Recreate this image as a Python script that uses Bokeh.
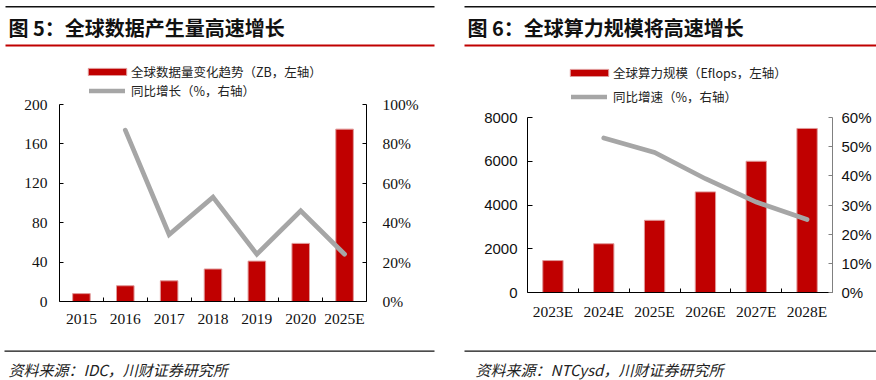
from bokeh.plotting import figure
from bokeh.models import (Range1d, LinearAxis, FixedTicker, PrintfTickFormatter,
                          Legend, LegendItem)
from bokeh.core.properties import value
from bokeh.embed import file_html
from bokeh.resources import INLINE

nan = float("nan")

# ---------------- data ----------------
years1 = ["2015", "2016", "2017", "2018", "2019", "2020", "2025E"]
data_zb = [8, 16, 21, 33, 41, 59, 175]
growth1 = [nan, 87, 34, 53, 24, 46, 24]
left_ticks1 = [0, 40, 80, 120, 160, 200]
right_ticks1 = [0, 20, 40, 60, 80, 100]

years2 = ["2023E", "2024E", "2025E", "2026E", "2027E", "2028E"]
compute_ef = [1460, 2230, 3300, 4600, 6000, 7500]
growth2 = [nan, 53, 48, 39, 31, 25]
left_ticks2 = [0, 2000, 4000, 6000, 8000]
right_ticks2 = [0, 10, 20, 30, 40, 50, 60]

titles = ["图 5：全球数据产生量高速增长", "图 6：全球算力规模将高速增长"]
leg1 = ["全球数据量变化趋势（ZB，左轴）", "同比增长（%，右轴）"]
leg2 = ["全球算力规模（Eflops，左轴）", "同比增速（%，右轴）"]
sources = ["资料来源：IDC，川财证券研究所", "资料来源：NTCysd，川财证券研究所"]

RED = "#C00000"
GRAY = "#A6A6A6"
CJK = "Noto Sans CJK SC"
SERIF = "Liberation Serif"
SANS = "Liberation Sans"
W, H = 876, 380
PW = 438  # width of each chart panel

# ---------------- background: titles, rules, sources ----------------
bg = figure(width=W, height=H, output_backend="svg", toolbar_location=None,
            x_range=Range1d(0, W), y_range=Range1d(H, 0),
            x_axis_type=None, y_axis_type=None, min_border=0)
bg.outline_line_color = None
bg.grid.visible = False
bg.styles = {"position": "absolute", "left": "0px", "top": "0px"}

rule_left = [5, 464]
rule_right = [434, 876]
bg.quad(left=rule_left, right=rule_right, top=[5.5, 5.5], bottom=[7, 7],
        fill_color="#111111", line_color=None)
bg.quad(left=rule_left, right=rule_right, top=[44, 44], bottom=[46, 46],
        fill_color=RED, line_color=None)
bg.quad(left=[4, 464], right=rule_right, top=[350, 350], bottom=[351.2, 351.2],
        fill_color="#111111", line_color=None)
bg.text(x=[8, 467], y=[27, 27], text=titles, text_font=value(CJK),
        text_font_size=value("20px"), text_font_style=value("bold"),
        text_color="#111111", text_baseline="middle", text_align="left")
bg.text(x=[8, 475], y=[369, 369], text=sources, text_font=value(CJK),
        text_font_size=value("15px"), text_font_style=value("italic"),
        text_color="#222222", text_baseline="middle", text_align="left")


def add_legend(p, rend, label, x, ybottom, gw, gh, standoff):
    p.add_layout(Legend(items=[LegendItem(label=label, renderers=[rend])],
                        location=(x, ybottom), glyph_width=gw, glyph_height=gh,
                        label_height=14, label_standoff=standoff,
                        label_text_font=CJK, label_text_font_size="12.5px",
                        label_text_color="#222222", padding=0, margin=0, spacing=0,
                        border_line_color=None, background_fill_alpha=0))


def make_panel(cats, bars, growth, lticks, rticks, left_px, fl, fr, ftop_axis, fbot,
               lfont, lsize, lstand, ltin, rfont, rsize, rstand, rcolor, xstand,
               labels, leg_pos):
    n = len(cats)
    centers = [i + 0.5 for i in range(n)]
    ftop = 58  # frame top (extended above the axes to host the legend)
    scale = (fbot - ftop) / (fbot - ftop_axis)
    p = figure(width=PW, height=H, output_backend="svg", toolbar_location=None,
               x_range=Range1d(0, n),
               y_range=Range1d(lticks[0], lticks[-1] * scale),
               min_border_left=fl, min_border_right=PW - fr, min_border_top=ftop,
               min_border_bottom=H - fbot, x_axis_type=None, y_axis_type=None)
    p.styles = {"position": "absolute", "left": f"{left_px}px", "top": "0px"}
    p.outline_line_color = None
    p.grid.visible = False
    p.background_fill_alpha = 0
    p.border_fill_alpha = 0
    p.extra_y_ranges = {"pct": Range1d(rticks[0], rticks[-1] * scale)}

    vb = p.vbar(x=centers, top=bars, width=0.4, bottom=0, fill_color=RED,
                line_color="#E09A9A", line_width=1)
    ln = p.line(x=centers, y=growth, y_range_name="pct", line_color=GRAY,
                line_width=4.7, line_cap="round", line_join="miter")

    xa = LinearAxis(ticker=FixedTicker(ticks=centers, minor_ticks=list(range(1, n))),
                    major_label_overrides={c: s for c, s in zip(centers, cats)})
    xa.major_tick_line_color = None
    xa.major_tick_in = 0
    xa.major_tick_out = 0
    xa.minor_tick_in = 4
    xa.minor_tick_out = 0
    xa.minor_tick_line_color = "black"
    xa.axis_line_color = "black"
    xa.major_label_text_font = SERIF
    xa.major_label_text_font_size = "15.5px"
    xa.major_label_text_color = "#111111"
    xa.major_label_standoff = xstand
    p.add_layout(xa, "below")

    ya = LinearAxis(ticker=FixedTicker(ticks=lticks), bounds=(lticks[0], lticks[-1]))
    ya.major_tick_in = ltin
    ya.major_tick_out = 0
    ya.minor_tick_line_color = None
    ya.axis_line_color = "black"
    ya.major_tick_line_color = "black"
    ya.major_label_text_font = lfont
    ya.major_label_text_font_size = lsize
    ya.major_label_text_color = "#111111"
    ya.major_label_standoff = lstand
    p.add_layout(ya, "left")

    ra = LinearAxis(y_range_name="pct", ticker=FixedTicker(ticks=rticks),
                    bounds=(rticks[0], rticks[-1]),
                    formatter=PrintfTickFormatter(format="%d%%"))
    ra.major_tick_in = 4
    ra.major_tick_out = 0
    ra.minor_tick_line_color = None
    ra.axis_line_color = rcolor
    ra.major_tick_line_color = rcolor
    ra.major_label_text_font = rfont
    ra.major_label_text_font_size = rsize
    ra.major_label_text_color = "#111111"
    ra.major_label_standoff = rstand
    p.add_layout(ra, "right")

    # legends: positions in page pixels -> frame-relative screen pixels
    row_h = 18
    fx = left_px + fl
    (ax, ay), (bx, by) = leg_pos
    add_legend(p, vb, labels[0], ax - 5 - fx, fbot - (ay + row_h / 2), 48, 9, 0)
    add_legend(p, ln, labels[1], bx + 2 - fx, fbot - (by + row_h / 2), 36, 9, 6)
    return p


p1 = make_panel(years1, data_zb, growth1, left_ticks1, right_ticks1, 0,
                59, 366, 104, 301, SERIF, "15.5px", 12, 4, SERIF, "15.5px", 16, "black", 8,
                leg1, ((88, 71.5), (87, 90.5)))
p2 = make_panel(years2, compute_ef, growth2, left_ticks2, right_ticks2, PW,
                89, 394, 117, 292, SANS, "15px", 10, 5, SANS, "15px", 9, "#808080", 10,
                leg2, ((570, 73), (569, 97)))

open("out.html", "w").write(file_html([bg, p1, p2], INLINE))
